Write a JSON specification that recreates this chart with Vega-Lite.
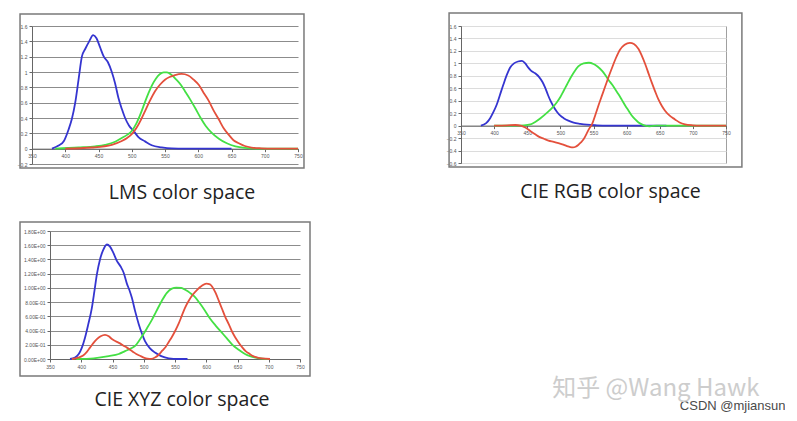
{
  "$schema": "https://vega.github.io/schema/vega-lite/v6.json",
  "autosize": {"type": "pad"},
  "padding": {"left": 17, "top": 11, "right": 0, "bottom": 10},
  "background": "white",
  "datasets": {
    "lms": [
      {"c":"blue","nm":380,"v":0},{"c":"blue","nm":390,"v":0.04},{"c":"blue","nm":398,"v":0.1},{"c":"blue","nm":405,"v":0.25},{"c":"blue","nm":410,"v":0.39},{"c":"blue","nm":415,"v":0.6},{"c":"blue","nm":420,"v":0.9},{"c":"blue","nm":425,"v":1.2},{"c":"blue","nm":430,"v":1.3},{"c":"blue","nm":436,"v":1.4},{"c":"blue","nm":442,"v":1.48},{"c":"blue","nm":447,"v":1.44},{"c":"blue","nm":452,"v":1.33},{"c":"blue","nm":458,"v":1.2},{"c":"blue","nm":464,"v":1.13},{"c":"blue","nm":470,"v":1.0},{"c":"blue","nm":475,"v":0.85},{"c":"blue","nm":480,"v":0.66},{"c":"blue","nm":485,"v":0.52},{"c":"blue","nm":490,"v":0.4},{"c":"blue","nm":496,"v":0.3},{"c":"blue","nm":503,"v":0.23},{"c":"blue","nm":510,"v":0.15},{"c":"blue","nm":520,"v":0.095},{"c":"blue","nm":530,"v":0.045},{"c":"blue","nm":545,"v":0.017},{"c":"blue","nm":560,"v":0.003},{"c":"blue","nm":580,"v":0},{"c":"blue","nm":650,"v":0},
      {"c":"green","nm":385,"v":0},{"c":"green","nm":420,"v":0.015},{"c":"green","nm":445,"v":0.03},{"c":"green","nm":460,"v":0.05},{"c":"green","nm":475,"v":0.09},{"c":"green","nm":485,"v":0.14},{"c":"green","nm":493,"v":0.18},{"c":"green","nm":500,"v":0.23},{"c":"green","nm":507,"v":0.33},{"c":"green","nm":514,"v":0.47},{"c":"green","nm":520,"v":0.61},{"c":"green","nm":525,"v":0.72},{"c":"green","nm":530,"v":0.82},{"c":"green","nm":536,"v":0.91},{"c":"green","nm":542,"v":0.97},{"c":"green","nm":548,"v":0.995},{"c":"green","nm":553,"v":0.995},{"c":"green","nm":560,"v":0.96},{"c":"green","nm":567,"v":0.9},{"c":"green","nm":574,"v":0.83},{"c":"green","nm":580,"v":0.75},{"c":"green","nm":588,"v":0.64},{"c":"green","nm":596,"v":0.52},{"c":"green","nm":603,"v":0.41},{"c":"green","nm":611,"v":0.3},{"c":"green","nm":620,"v":0.21},{"c":"green","nm":631,"v":0.13},{"c":"green","nm":643,"v":0.07},{"c":"green","nm":656,"v":0.03},{"c":"green","nm":670,"v":0.01},{"c":"green","nm":690,"v":0},{"c":"green","nm":750,"v":0},
      {"c":"red","nm":400,"v":0},{"c":"red","nm":440,"v":0.015},{"c":"red","nm":470,"v":0.05},{"c":"red","nm":485,"v":0.1},{"c":"red","nm":493,"v":0.14},{"c":"red","nm":500,"v":0.19},{"c":"red","nm":507,"v":0.27},{"c":"red","nm":514,"v":0.38},{"c":"red","nm":520,"v":0.49},{"c":"red","nm":527,"v":0.62},{"c":"red","nm":535,"v":0.75},{"c":"red","nm":543,"v":0.84},{"c":"red","nm":550,"v":0.9},{"c":"red","nm":557,"v":0.935},{"c":"red","nm":565,"v":0.96},{"c":"red","nm":575,"v":0.975},{"c":"red","nm":585,"v":0.955},{"c":"red","nm":593,"v":0.9},{"c":"red","nm":601,"v":0.83},{"c":"red","nm":608,"v":0.73},{"c":"red","nm":616,"v":0.62},{"c":"red","nm":623,"v":0.5},{"c":"red","nm":631,"v":0.38},{"c":"red","nm":638,"v":0.27},{"c":"red","nm":646,"v":0.18},{"c":"red","nm":653,"v":0.11},{"c":"red","nm":661,"v":0.07},{"c":"red","nm":670,"v":0.035},{"c":"red","nm":680,"v":0.015},{"c":"red","nm":695,"v":0.005},{"c":"red","nm":710,"v":0},{"c":"red","nm":750,"v":0}
    ],
    "rgb": [
      {"c":"blue","nm":380,"v":0},{"c":"blue","nm":388,"v":0.04},{"c":"blue","nm":394,"v":0.12},{"c":"blue","nm":399,"v":0.22},{"c":"blue","nm":404,"v":0.34},{"c":"blue","nm":409,"v":0.5},{"c":"blue","nm":414,"v":0.66},{"c":"blue","nm":419,"v":0.81},{"c":"blue","nm":424,"v":0.93},{"c":"blue","nm":430,"v":1.0},{"c":"blue","nm":436,"v":1.03},{"c":"blue","nm":442,"v":1.04},{"c":"blue","nm":447,"v":1.0},{"c":"blue","nm":451,"v":0.94},{"c":"blue","nm":456,"v":0.88},{"c":"blue","nm":462,"v":0.84},{"c":"blue","nm":468,"v":0.78},{"c":"blue","nm":473,"v":0.7},{"c":"blue","nm":477,"v":0.61},{"c":"blue","nm":481,"v":0.5},{"c":"blue","nm":485,"v":0.4},{"c":"blue","nm":490,"v":0.3},{"c":"blue","nm":495,"v":0.22},{"c":"blue","nm":500,"v":0.16},{"c":"blue","nm":505,"v":0.12},{"c":"blue","nm":512,"v":0.08},{"c":"blue","nm":520,"v":0.05},{"c":"blue","nm":530,"v":0.03},{"c":"blue","nm":540,"v":0.015},{"c":"blue","nm":555,"v":0.005},{"c":"blue","nm":570,"v":0},{"c":"blue","nm":660,"v":0},
      {"c":"green","nm":400,"v":0},{"c":"green","nm":430,"v":0},{"c":"green","nm":445,"v":0.005},{"c":"green","nm":455,"v":0.02},{"c":"green","nm":462,"v":0.06},{"c":"green","nm":470,"v":0.12},{"c":"green","nm":480,"v":0.21},{"c":"green","nm":489,"v":0.3},{"c":"green","nm":495,"v":0.38},{"c":"green","nm":500,"v":0.46},{"c":"green","nm":505,"v":0.56},{"c":"green","nm":510,"v":0.66},{"c":"green","nm":515,"v":0.76},{"c":"green","nm":520,"v":0.85},{"c":"green","nm":527,"v":0.95},{"c":"green","nm":535,"v":1.0},{"c":"green","nm":543,"v":1.01},{"c":"green","nm":550,"v":0.99},{"c":"green","nm":556,"v":0.95},{"c":"green","nm":563,"v":0.88},{"c":"green","nm":568,"v":0.81},{"c":"green","nm":573,"v":0.73},{"c":"green","nm":578,"v":0.66},{"c":"green","nm":583,"v":0.58},{"c":"green","nm":588,"v":0.5},{"c":"green","nm":593,"v":0.41},{"c":"green","nm":598,"v":0.32},{"c":"green","nm":603,"v":0.24},{"c":"green","nm":608,"v":0.16},{"c":"green","nm":613,"v":0.1},{"c":"green","nm":618,"v":0.05},{"c":"green","nm":623,"v":0.02},{"c":"green","nm":628,"v":0},{"c":"green","nm":635,"v":-0.01},{"c":"green","nm":645,"v":0},{"c":"green","nm":750,"v":0},
      {"c":"red","nm":400,"v":0},{"c":"red","nm":420,"v":0.005},{"c":"red","nm":432,"v":0.01},{"c":"red","nm":440,"v":0},{"c":"red","nm":447,"v":-0.03},{"c":"red","nm":455,"v":-0.09},{"c":"red","nm":462,"v":-0.14},{"c":"red","nm":468,"v":-0.18},{"c":"red","nm":475,"v":-0.21},{"c":"red","nm":482,"v":-0.24},{"c":"red","nm":490,"v":-0.26},{"c":"red","nm":497,"v":-0.28},{"c":"red","nm":503,"v":-0.3},{"c":"red","nm":510,"v":-0.33},{"c":"red","nm":515,"v":-0.345},{"c":"red","nm":519,"v":-0.35},{"c":"red","nm":523,"v":-0.34},{"c":"red","nm":527,"v":-0.31},{"c":"red","nm":531,"v":-0.27},{"c":"red","nm":535,"v":-0.22},{"c":"red","nm":540,"v":-0.12},{"c":"red","nm":544,"v":-0.04},{"c":"red","nm":548,"v":0.03},{"c":"red","nm":553,"v":0.18},{"c":"red","nm":558,"v":0.34},{"c":"red","nm":563,"v":0.49},{"c":"red","nm":568,"v":0.64},{"c":"red","nm":573,"v":0.79},{"c":"red","nm":578,"v":0.93},{"c":"red","nm":584,"v":1.09},{"c":"red","nm":590,"v":1.22},{"c":"red","nm":597,"v":1.3},{"c":"red","nm":605,"v":1.33},{"c":"red","nm":611,"v":1.31},{"c":"red","nm":618,"v":1.23},{"c":"red","nm":623,"v":1.12},{"c":"red","nm":628,"v":0.99},{"c":"red","nm":633,"v":0.84},{"c":"red","nm":638,"v":0.69},{"c":"red","nm":643,"v":0.55},{"c":"red","nm":648,"v":0.42},{"c":"red","nm":653,"v":0.32},{"c":"red","nm":658,"v":0.24},{"c":"red","nm":665,"v":0.16},{"c":"red","nm":673,"v":0.1},{"c":"red","nm":680,"v":0.05},{"c":"red","nm":688,"v":0.02},{"c":"red","nm":700,"v":0.005},{"c":"red","nm":710,"v":0},{"c":"red","nm":750,"v":0}
    ],
    "xyz": [
      {"c":"blue","nm":382,"v":0},{"c":"blue","nm":390,"v":0.02},{"c":"blue","nm":396,"v":0.07},{"c":"blue","nm":401,"v":0.16},{"c":"blue","nm":406,"v":0.3},{"c":"blue","nm":411,"v":0.48},{"c":"blue","nm":417,"v":0.72},{"c":"blue","nm":421,"v":0.95},{"c":"blue","nm":425,"v":1.19},{"c":"blue","nm":430,"v":1.4},{"c":"blue","nm":435,"v":1.53},{"c":"blue","nm":441,"v":1.61},{"c":"blue","nm":446,"v":1.58},{"c":"blue","nm":451,"v":1.5},{"c":"blue","nm":457,"v":1.38},{"c":"blue","nm":463,"v":1.3},{"c":"blue","nm":468,"v":1.21},{"c":"blue","nm":473,"v":1.06},{"c":"blue","nm":477,"v":0.97},{"c":"blue","nm":481,"v":0.86},{"c":"blue","nm":486,"v":0.68},{"c":"blue","nm":492,"v":0.49},{"c":"blue","nm":497,"v":0.36},{"c":"blue","nm":502,"v":0.25},{"c":"blue","nm":510,"v":0.15},{"c":"blue","nm":518,"v":0.09},{"c":"blue","nm":528,"v":0.04},{"c":"blue","nm":540,"v":0.01},{"c":"blue","nm":555,"v":0},{"c":"blue","nm":570,"v":0},
      {"c":"green","nm":392,"v":0},{"c":"green","nm":420,"v":0.01},{"c":"green","nm":444,"v":0.04},{"c":"green","nm":460,"v":0.07},{"c":"green","nm":470,"v":0.11},{"c":"green","nm":480,"v":0.15},{"c":"green","nm":487,"v":0.19},{"c":"green","nm":492,"v":0.25},{"c":"green","nm":498,"v":0.33},{"c":"green","nm":505,"v":0.43},{"c":"green","nm":513,"v":0.55},{"c":"green","nm":520,"v":0.67},{"c":"green","nm":529,"v":0.82},{"c":"green","nm":537,"v":0.93},{"c":"green","nm":545,"v":0.99},{"c":"green","nm":552,"v":1.005},{"c":"green","nm":560,"v":1.0},{"c":"green","nm":567,"v":0.97},{"c":"green","nm":574,"v":0.93},{"c":"green","nm":581,"v":0.88},{"c":"green","nm":590,"v":0.78},{"c":"green","nm":598,"v":0.68},{"c":"green","nm":606,"v":0.57},{"c":"green","nm":615,"v":0.47},{"c":"green","nm":625,"v":0.37},{"c":"green","nm":633,"v":0.29},{"c":"green","nm":642,"v":0.2},{"c":"green","nm":652,"v":0.13},{"c":"green","nm":662,"v":0.07},{"c":"green","nm":670,"v":0.04},{"c":"green","nm":679,"v":0.02},{"c":"green","nm":690,"v":0.005},{"c":"green","nm":700,"v":0},
      {"c":"red","nm":385,"v":0},{"c":"red","nm":395,"v":0.02},{"c":"red","nm":403,"v":0.05},{"c":"red","nm":409,"v":0.1},{"c":"red","nm":414,"v":0.16},{"c":"red","nm":419,"v":0.22},{"c":"red","nm":425,"v":0.28},{"c":"red","nm":431,"v":0.32},{"c":"red","nm":438,"v":0.34},{"c":"red","nm":444,"v":0.32},{"c":"red","nm":449,"v":0.28},{"c":"red","nm":455,"v":0.25},{"c":"red","nm":462,"v":0.22},{"c":"red","nm":467,"v":0.19},{"c":"red","nm":473,"v":0.16},{"c":"red","nm":478,"v":0.13},{"c":"red","nm":483,"v":0.1},{"c":"red","nm":488,"v":0.07},{"c":"red","nm":494,"v":0.045},{"c":"red","nm":500,"v":0.02},{"c":"red","nm":506,"v":0.005},{"c":"red","nm":512,"v":0.002},{"c":"red","nm":518,"v":0.02},{"c":"red","nm":524,"v":0.06},{"c":"red","nm":530,"v":0.12},{"c":"red","nm":535,"v":0.17},{"c":"red","nm":540,"v":0.24},{"c":"red","nm":545,"v":0.31},{"c":"red","nm":550,"v":0.39},{"c":"red","nm":556,"v":0.5},{"c":"red","nm":561,"v":0.61},{"c":"red","nm":566,"v":0.72},{"c":"red","nm":572,"v":0.82},{"c":"red","nm":578,"v":0.9},{"c":"red","nm":585,"v":0.97},{"c":"red","nm":593,"v":1.03},{"c":"red","nm":600,"v":1.06},{"c":"red","nm":606,"v":1.05},{"c":"red","nm":610,"v":1.01},{"c":"red","nm":615,"v":0.93},{"c":"red","nm":620,"v":0.82},{"c":"red","nm":625,"v":0.71},{"c":"red","nm":630,"v":0.6},{"c":"red","nm":636,"v":0.49},{"c":"red","nm":641,"v":0.39},{"c":"red","nm":646,"v":0.31},{"c":"red","nm":652,"v":0.23},{"c":"red","nm":658,"v":0.16},{"c":"red","nm":663,"v":0.11},{"c":"red","nm":668,"v":0.08},{"c":"red","nm":675,"v":0.04},{"c":"red","nm":682,"v":0.02},{"c":"red","nm":689,"v":0.008},{"c":"red","nm":702,"v":0}
    ]
  },
  "spacing": 18,
  "vconcat": [
    {
      "hconcat": [
        {
          "width": 266, "height": 138,
          "title": {"text": "LMS color space", "orient": "bottom", "anchor": "middle", "dx": 17, "offset": 30, "baseline": "alphabetic", "font": "Open Sans", "fontSize": 19.5, "fontWeight": "normal", "color": "#222222"},
          "layer": [
            {
              "data": {"values": [{}]},
              "mark": {"type": "rect", "filled": false, "stroke": "#7a7a7a", "strokeWidth": 1.5},
              "encoding": {
                "x": {"datum": 332, "type": "quantitative"}, "x2": {"datum": 759},
                "y": {"datum": 1.757, "type": "quantitative"}, "y2": {"datum": -0.252}
              }
            },
            {
              "data": {"name": "lms"},
              "mark": {"type": "line", "strokeWidth": 1.8, "interpolate": "monotone"},
              "encoding": {
                "x": {"field": "nm", "type": "quantitative", "scale": {"domain": [350, 750], "nice": false, "zero": false},
                      "axis": {"title": null, "values": [350,400,450,500,550,600,650,700,750], "tickCount": 30, "grid": false, "offset": -15.33, "format": "d"}},
                "y": {"field": "v", "type": "quantitative", "scale": {"domain": [-0.2, 1.6], "nice": false, "zero": false},
                      "axis": {"title": null, "values": [-0.2,0,0.2,0.4,0.6,0.8,1,1.2,1.4,1.6], "tickCount": 30, "grid": true, "gridColor": "#8c8c8c", "gridWidth": 1.2, "format": "~g"}},
                "color": {"field": "c", "type": "nominal", "scale": {"domain": ["blue","green","red"], "range": ["#3535d0","#44e044","#e4503c"]}, "legend": null}
              }
            }
          ]
        },
        {
          "width": 265, "height": 137,
          "view": {"stroke": "#a0a0a0", "strokeWidth": 1},
          "title": {"text": "CIE RGB color space", "orient": "bottom", "anchor": "middle", "dx": 17, "offset": 30, "baseline": "alphabetic", "font": "Open Sans", "fontSize": 19.5, "fontWeight": "normal", "color": "#222222"},
          "layer": [
            {
              "data": {"values": [{}]},
              "mark": {"type": "rect", "filled": false, "stroke": "#7a7a7a", "strokeWidth": 1.5},
              "encoding": {
                "x": {"datum": 332, "type": "quantitative"}, "x2": {"datum": 774},
                "y": {"datum": 1.809, "type": "quantitative"}, "y2": {"datum": -0.664}
              }
            },
            {
              "data": {"name": "rgb"},
              "mark": {"type": "line", "strokeWidth": 1.8, "interpolate": "monotone"},
              "encoding": {
                "x": {"field": "nm", "type": "quantitative", "scale": {"domain": [350, 750], "nice": false, "zero": false},
                      "axis": {"title": null, "values": [350,400,450,500,550,600,650,700,750], "tickCount": 30, "grid": false, "offset": -37.36, "format": "d", "domainColor": "#555555"}},
                "y": {"field": "v", "type": "quantitative", "scale": {"domain": [-0.6, 1.6], "nice": false, "zero": false},
                      "axis": {"title": null, "values": [-0.6,-0.4,-0.2,0,0.2,0.4,0.6,0.8,1,1.2,1.4,1.6], "tickCount": 30, "grid": true, "gridColor": "#dcdcdc", "gridWidth": 1, "format": "~g"}},
                "color": {"field": "c", "type": "nominal", "scale": {"domain": ["blue","green","red"], "range": ["#3535d0","#44e044","#e4503c"]}, "legend": null}
              }
            }
          ]
        }
      ],
      "spacing": 163,
      "bounds": "flush"
    },
    {
      "hconcat": [
        {
          "width": 8, "height": 10,
          "data": {"values": [{"a": 0}]},
          "mark": {"type": "point", "opacity": 0},
          "encoding": {}
        },
        {
          "width": 250, "height": 128,
          "title": {"text": "CIE XYZ color space", "orient": "bottom", "anchor": "middle", "dx": 7, "offset": 29, "baseline": "alphabetic", "font": "Open Sans", "fontSize": 19.5, "fontWeight": "normal", "color": "#222222"},
          "layer": [
            {
              "data": {"values": [{}]},
              "mark": {"type": "rect", "filled": false, "stroke": "#7a7a7a", "strokeWidth": 1.5},
              "encoding": {
                "x": {"datum": 302, "type": "quantitative"}, "x2": {"datum": 766},
                "y": {"datum": 1.9266, "type": "quantitative"}, "y2": {"datum": -0.239}
              }
            },
            {
              "data": {"name": "xyz"},
              "mark": {"type": "line", "strokeWidth": 1.8, "interpolate": "monotone"},
              "encoding": {
                "x": {"field": "nm", "type": "quantitative", "scale": {"domain": [350, 750], "nice": false, "zero": false},
                      "axis": {"title": null, "values": [350,400,450,500,550,600,650,700,750], "tickCount": 30, "grid": false, "format": "d"}},
                "y": {"field": "v", "type": "quantitative", "scale": {"domain": [0, 1.8], "nice": false, "zero": false},
                      "axis": {"title": null, "values": [0,0.2,0.4,0.6,0.8,1,1.2,1.4,1.6,1.8], "tickCount": 30, "grid": true, "gridColor": "#8c8c8c", "gridWidth": 1.2,
                               "labelExpr": "replace(replace(format(datum.value, '.2e'), 'e+', 'E+0'), 'e-', 'E-0')"}},
                "color": {"field": "c", "type": "nominal", "scale": {"domain": ["blue","green","red"], "range": ["#3535d0","#44e044","#e4503c"]}, "legend": null}
              }
            }
          ]
        },
        {
          "width": 475, "height": 128,
          "data": {"values": [{"a": 0}]},
          "mark": {"type": "point", "opacity": 0},
          "encoding": {
            "x": {"field": "a", "type": "quantitative", "axis": {"title": "CSDN @mjiansun", "labels": false, "ticks": false, "domain": false, "grid": false, "titleX": 475, "titleY": 50, "titleAlign": "right", "titleAnchor": null, "titleBaseline": "alphabetic", "titleFont": "Liberation Sans", "titleFontSize": 13, "titleFontWeight": "normal", "titleColor": "#4a4a4a"}},
            "y": {"field": "a", "type": "quantitative", "axis": {"title": "知乎 @Wang Hawk", "labels": false, "ticks": false, "domain": false, "grid": false, "titleAngle": 0, "titleX": 449, "titleY": 164, "titleAlign": "right", "titleBaseline": "alphabetic", "titleFont": "Noto Sans CJK SC", "titleFontSize": 24, "titleFontWeight": "normal", "titleColor": "#cdcdcd"}}
          }
        }
      ],
      "spacing": 10,
      "bounds": "flush"
    }
  ],
  "config": {
    "view": {"stroke": null},
    "axis": {"labelFont": "Liberation Sans", "labelFontSize": 5, "labelColor": "#555555", "tickColor": "#666666", "domainColor": "#666666", "tickSize": 3, "labelPadding": 2, "labelFlush": false, "labelOverlap": false, "labelBound": false}
  }
}
